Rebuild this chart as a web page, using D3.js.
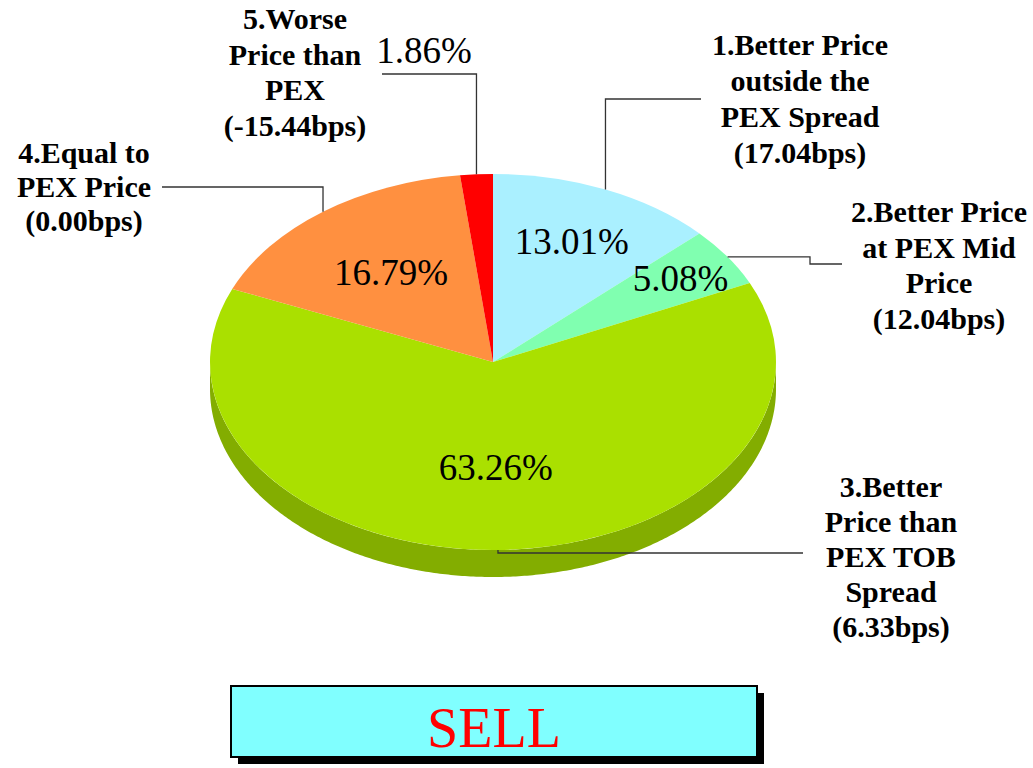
<!DOCTYPE html>
<html>
<head>
<meta charset="utf-8">
<script src="https://cdn.jsdelivr.net/npm/d3@7"></script>
<style>
  body { margin: 0; background: #fff; }
  svg { display: block; }
</style>
</head>
<body>
<div id="chart-area"></div>
<script>
// data
var names = [
    ["1.Better Price", "outside the", "PEX Spread"],
    ["2.Better Price", "at PEX Mid", "Price"],
    ["3.Better", "Price than", "PEX TOB", "Spread"],
    ["4.Equal to", "PEX Price"],
    ["5.Worse", "Price than", "PEX"]
];
var bps = [17.04, 12.04, 6.33, 0.00, -15.44];
var pct = [13.01, 5.08, 63.26, 16.79, 1.86];
var colors = ["#AAF0FF", "#80FFB0", "#AAE000", "#FF9040", "#FF0000"];
var title = "SELL";

// layout
var width = 1033, height = 768;
var cx = 493, cy = 362, rx = 283, ry = 188, depth = 27;

// label boxes: x centre, first baseline, line height
var labelPos = [
    {x: 800, y: 55, lh: 36},
    {x: 939, y: 222, lh: 35.5},
    {x: 891, y: 497, lh: 35},
    {x: 84, y: 163, lh: 34},
    {x: 295, y: 29, lh: 35.7}
];
// leader lines after the rim point
var leaders = [
    {type: "vh", y: 99, x: 701},
    {type: "hvh", x1: 810, y: 264, x2: 842},
    {type: "vh", y: 553, x: 803},
    {type: "vh", y: 187, x: 162},
    {type: "vh", y: 74, x: 382}
];
// percent labels: fraction of radius, or outside position
var pctPos = [
    {r: 0.70},
    {r: 0.80},
    {r: 0.56},
    {r: 0.60},
    {x: 424, y: 63}
];

var serif = "'Liberation Serif', 'Times New Roman', Times, serif";

var svg = d3.select("#chart-area").append("svg")
    .attr("width", width)
    .attr("height", height);

var pie = d3.pie().sort(null).value(function(d){ return d; });
var arcs = pie(pct);

function ex(a, r){ return cx + r * rx * Math.sin(a); }
function ey(a, r){ return cy - r * ry * Math.cos(a); }

// side walls (only the front half shows)
var sides = svg.append("g").attr("class", "sides");
arcs.forEach(function(d, i){
    var a0 = Math.max(d.startAngle, Math.PI / 2);
    var a1 = Math.min(d.endAngle, Math.PI * 3 / 2);
    if (a0 >= a1) return;
    var steps = d3.range(a0, a1, 0.01).concat([a1]);
    var p = d3.path();
    steps.forEach(function(a, k){
        if (k == 0) p.moveTo(ex(a, 1), ey(a, 1));
        else p.lineTo(ex(a, 1), ey(a, 1));
    });
    steps.slice().reverse().forEach(function(a){
        p.lineTo(ex(a, 1), ey(a, 1) + depth);
    });
    p.closePath();
    sides.append("path")
        .attr("d", p.toString())
        .attr("fill", d3.color(colors[i]).darker(0.72));
});

// top faces
var arc = d3.arc().innerRadius(0).outerRadius(rx);
svg.append("g")
    .attr("transform", "translate(" + cx + "," + cy + ") scale(1," + (ry / rx) + ")")
    .selectAll("path")
    .data(arcs)
    .enter()
    .append("path")
    .attr("d", arc)
    .attr("fill", function(d, i){ return colors[i]; });

// leader lines
var line = d3.line();
arcs.forEach(function(d, i){
    var m = (d.startAngle + d.endAngle) / 2;
    var sx = ex(m, 1), sy = ey(m, 1);
    var L = leaders[i], pts;
    if (L.type == "vh") pts = [[sx, sy], [sx, L.y], [L.x, L.y]];
    else pts = [[sx, sy], [L.x1, sy], [L.x1, L.y], [L.x2, L.y]];
    svg.append("path")
        .attr("d", line(pts))
        .attr("fill", "none")
        .attr("stroke", "#333")
        .attr("stroke-width", 1.3);
});

// percent labels
arcs.forEach(function(d, i){
    var P = pctPos[i], x, y;
    if (P.r !== undefined) {
        var m = (d.startAngle + d.endAngle) / 2;
        x = ex(m, P.r); y = ey(m, P.r);
    } else { x = P.x; y = P.y; }
    svg.append("text")
        .attr("x", x)
        .attr("y", y)
        .attr("dy", P.r !== undefined ? "0.35em" : 0)
        .attr("text-anchor", "middle")
        .attr("font-family", serif)
        .attr("font-size", "37px")
        .attr("fill", "#000")
        .text(d.data.toFixed(2) + "%");
});

// category labels
names.forEach(function(lines, i){
    var all = lines.concat(["(" + bps[i].toFixed(2) + "bps)"]);
    var t = svg.append("text")
        .attr("text-anchor", "middle")
        .attr("font-family", serif)
        .attr("font-weight", "bold")
        .attr("font-size", "30px")
        .attr("fill", "#000");
    all.forEach(function(s, k){
        t.append("tspan")
            .attr("x", labelPos[i].x)
            .attr("y", labelPos[i].y + k * labelPos[i].lh)
            .text(s);
    });
});

// title box
svg.append("rect")
    .attr("x", 238).attr("y", 693)
    .attr("width", 526).attr("height", 71)
    .attr("fill", "#000");
svg.append("rect")
    .attr("x", 231).attr("y", 686)
    .attr("width", 526).attr("height", 71)
    .attr("fill", "#80FFFF")
    .attr("stroke", "#000")
    .attr("stroke-width", 2);
svg.append("text")
    .attr("x", 494).attr("y", 747)
    .attr("text-anchor", "middle")
    .attr("font-family", serif)
    .attr("font-size", "56px")
    .attr("fill", "#FF0000")
    .text(title);
</script>
</body>
</html>
